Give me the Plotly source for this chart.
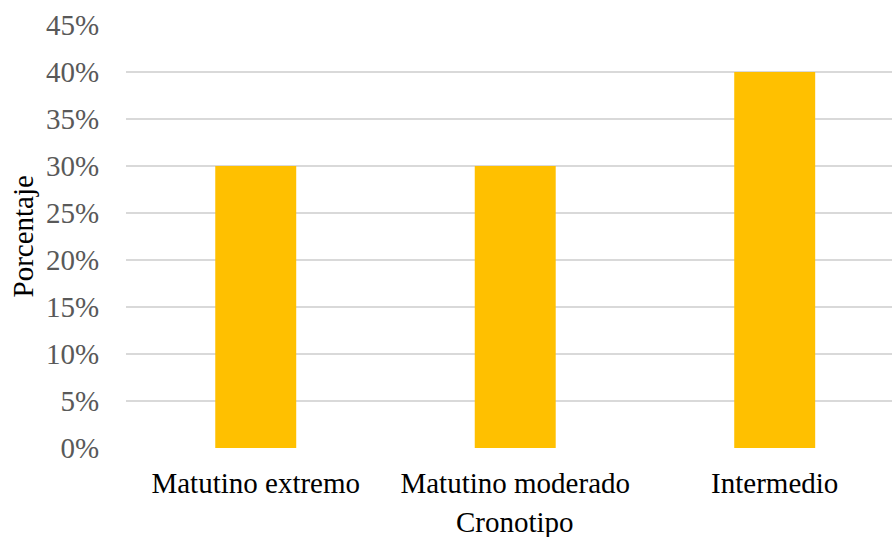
import plotly.graph_objects as go

categories = ["Matutino extremo", "Matutino moderado", "Intermedio"]
percentages = [0.30, 0.30, 0.40]
y_ticks = [0, 0.05, 0.10, 0.15, 0.20, 0.25, 0.30, 0.35, 0.40, 0.45]
y_tick_labels = ["0%", "5%", "10%", "15%", "20%", "25%", "30%", "35%", "40%", "45%"]

FONT = "Liberation Serif, Times New Roman, serif"
SIZE = 29

fig = go.Figure()
fig.add_trace(go.Bar(
    x=list(range(len(categories))),
    y=percentages,
    width=0.312,
    marker=dict(color="#FFC000", line=dict(width=0)),
))

fig.update_layout(
    width=892, height=537,
    margin=dict(l=126, r=0, t=25, b=89),
    paper_bgcolor="white", plot_bgcolor="white",
    showlegend=False,
    font=dict(family=FONT, size=SIZE, color="black"),
    xaxis=dict(
        range=[-0.5, 2.452],
        tickmode="array",
        tickvals=list(range(len(categories))),
        ticktext=categories,
        tickfont=dict(family=FONT, size=SIZE, color="black"),
        showgrid=False, zeroline=False, showline=False,
        ticks="outside", ticklen=9, tickcolor="rgba(0,0,0,0)",
    ),
    yaxis=dict(
        range=[0, 0.45],
        tickmode="array",
        tickvals=y_ticks,
        ticktext=y_tick_labels,
        tickfont=dict(family=FONT, size=SIZE, color="#595959"),
        showgrid=True, gridcolor="#D9D9D9", gridwidth=1.5,
        zeroline=False, showline=False,
        ticks="outside", ticklen=20, tickcolor="rgba(0,0,0,0)",
    ),
)

fig.add_annotation(
    x=1, xref="x", y=0, yref="paper", yshift=-74,
    text="Cronotipo", showarrow=False, yanchor="middle",
    font=dict(family=FONT, size=SIZE, color="black"),
)
fig.add_annotation(
    x=0, xref="paper", y=0.5, yref="paper", xshift=-104,
    text="Porcentaje", showarrow=False, textangle=-90,
    xanchor="center", yanchor="middle",
    font=dict(family=FONT, size=SIZE, color="black"),
)

fig.write_html("out.html")
